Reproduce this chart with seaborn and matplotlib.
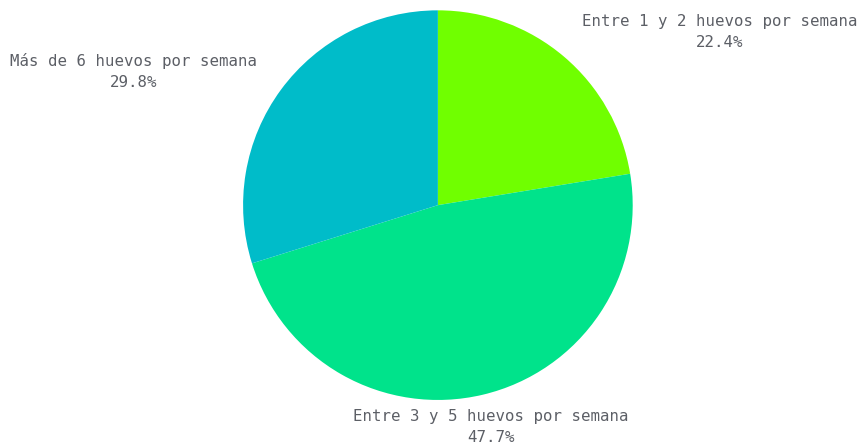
import matplotlib
matplotlib.use("Agg")
import matplotlib.pyplot as plt
import seaborn as sns

categorias = ["Entre 1 y 2 huevos por semana",
              "Entre 3 y 5 huevos por semana",
              "Más de 6 huevos por semana"]
porcentajes = [22.4, 47.7, 29.8]
colores = ["#70ff00", "#00e38b", "#00bcc9"]

sns.set_style("white")
plt.rcParams['font.family'] = ['DejaVu Sans Mono', 'DejaVu Sans']

fig = plt.figure(figsize=(8.62, 4.45), dpi=100)
ax = fig.add_axes([0.282, 0.101, 0.452, 0.876])

ax.pie(porcentajes, colors=colores, startangle=90, counterclock=False,
       wedgeprops=dict(linewidth=0))
ax.set_aspect('equal')
ax.set_xlim(-1, 1)
ax.set_ylim(-1, 1)

# posiciones de las etiquetas (en radios)
pos_etiquetas = [(1.446, 0.887), (0.272, -1.138), (-1.564, 0.687)]
for cat, pct, (x, y) in zip(categorias, porcentajes, pos_etiquetas):
    ax.text(x, y, "{}\n{:.1f}%".format(cat, pct), ha='center', va='center',
            fontsize=11.3, color='#5c5f66', linespacing=1.5, clip_on=False)

fig.savefig("out.png", dpi=100)
